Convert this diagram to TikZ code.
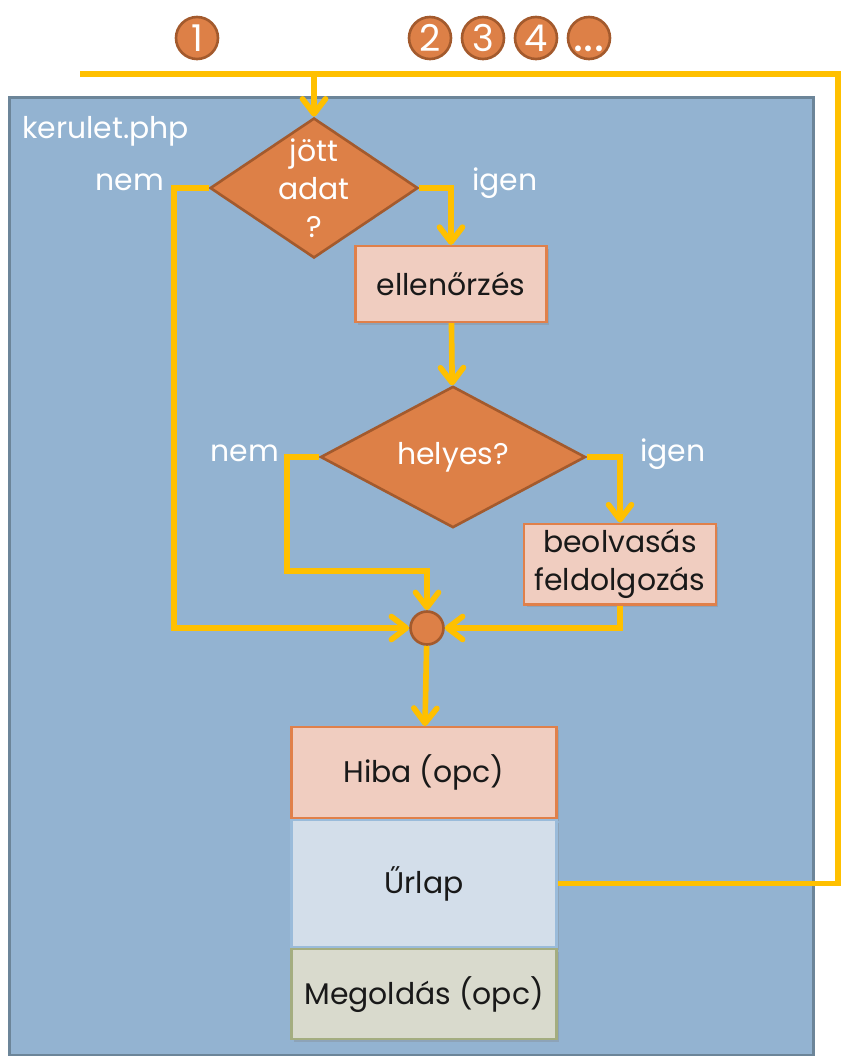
\documentclass[tikz,border=0pt]{standalone}
\usepackage{fontspec}
\setmainfont{Poppins}
\usetikzlibrary{shapes,arrows.meta,positioning,shadows}

\definecolor{pagefill}{HTML}{93B3D1}
\definecolor{pageborder}{HTML}{6C8599}
\definecolor{orangefill}{HTML}{DD8047}
\definecolor{orangeborder}{HTML}{A35A2D}
\definecolor{pinkfill}{HTML}{F0CDC0}
\definecolor{pinkborder}{HTML}{E0804A}
\definecolor{formfill}{HTML}{D3DEEA}
\definecolor{formborder}{HTML}{9ABBDA}
\definecolor{solfill}{HTML}{D9DACD}
\definecolor{solborder}{HTML}{A4AD80}
\definecolor{flowyellow}{HTML}{FFC000}

\begin{document}
\begin{tikzpicture}[
    x=0.02cm, y=-0.02cm,
    font=\fontsize{17}{21.5}\selectfont,
    block/.style={rectangle, draw=pinkborder, fill=pinkfill, line width=1.2pt, minimum width=3.82cm, minimum height=1.52cm, align=center, text=black!90,
        drop shadow={shadow xshift=0.05cm, shadow yshift=-0.06cm, opacity=0.3}},
    part/.style={block, minimum width=5.3cm},
    decision/.style={diamond, draw=orangeborder, fill=orangefill, line width=1.5pt, text=white, inner sep=0pt, align=center},
    numbered/.style={circle, draw=orangeborder, fill=orangefill, line width=1.5pt, text=white, inner sep=0pt, minimum size=0.84cm, font=\fontsize{21}{24}\selectfont},
    answer/.style={text=white},
    flow/.style={draw=flowyellow, line width=3.2pt},
    arrow/.style={flow, -{Straight Barb[length=0.3cm, width=0.46cm, round]}}
]
\useasboundingbox (0,0) rectangle (842,1056);

% request counters
\node[numbered] (n1) at (197,38) {1};
\node[numbered] (n2) at (430,38) {2};
\node[numbered] (n3) at (483,38) {3};
\node[numbered] (n4) at (536,38) {4};
\node[numbered] (n5) at (589,38) {\vphantom{1}{\fontsize{27}{27}\selectfont .\kern0.5pt.\kern0.5pt.}};

% the script
\node[draw=pageborder, fill=pagefill, line width=1.6pt, anchor=north west, minimum width=16.08cm, minimum height=19.16cm] (page) at (8,96) {};
\node[answer, anchor=base west, inner sep=0pt] (file) at (22,138) {kerulet.php};

\node[decision, minimum width=4.16cm, minimum height=2.8cm, label={[answer, align=center, font=\fontsize{17}{21.5}\selectfont]center:{jött\\adat\\?}}] (came) at (314,188) {};
\node[block] (check) at (451,284) {ellenőrzés};
\node[decision, minimum width=5.3cm, minimum height=2.76cm] (valid) at (453,457) {helyes?};
\node[block, minimum width=3.84cm, minimum height=1.5cm] (read) at (620,564) {beolvasás\\feldolgozás};
\node[circle, draw=orangeborder, fill=orangefill, line width=1.5pt, minimum size=0.66cm, inner sep=0pt] (join) at (427,628) {};

\node[part, minimum height=1.82cm, anchor=north] (error) at (424,726) {Hiba (opc)};
\node[part, draw=formborder, fill=formfill, minimum height=2.54cm, below=0pt of error] (form) {Űrlap};
\node[part, draw=solborder, fill=solfill, minimum height=1.8cm, below=0pt of form] (sol) {Megoldás (opc)};

\node[answer, anchor=base east] (no1) at (170,190) {nem};
\node[answer, anchor=base west] (yes1) at (466,190) {igen};
\node[answer, anchor=base east] (no2) at (285,461) {nem};
\node[answer, anchor=base west] (yes2) at (634,461) {igen};

% connectors
\coordinate (start) at (80,74);
\coordinate (turn) at (838,74);
\coordinate (bend) at (427,571);
\draw[flow] (form.east) -| (turn) -- (start);
\draw[arrow] (came.north |- start) -- (came.north);
\draw[arrow] (came.west) -- ++(-35,0) |- (join);
\draw[arrow] (came.east) -| (check.north);
\draw[arrow] (check) -- (valid);
\draw[arrow] (valid.west) -- ++(-32,0) |- (bend) -- (join);
\draw[arrow] (valid.east) -| (read.north);
\draw[arrow] (read.south) |- (join);
\draw[arrow] (join) -- (error);

\end{tikzpicture}
\end{document}
